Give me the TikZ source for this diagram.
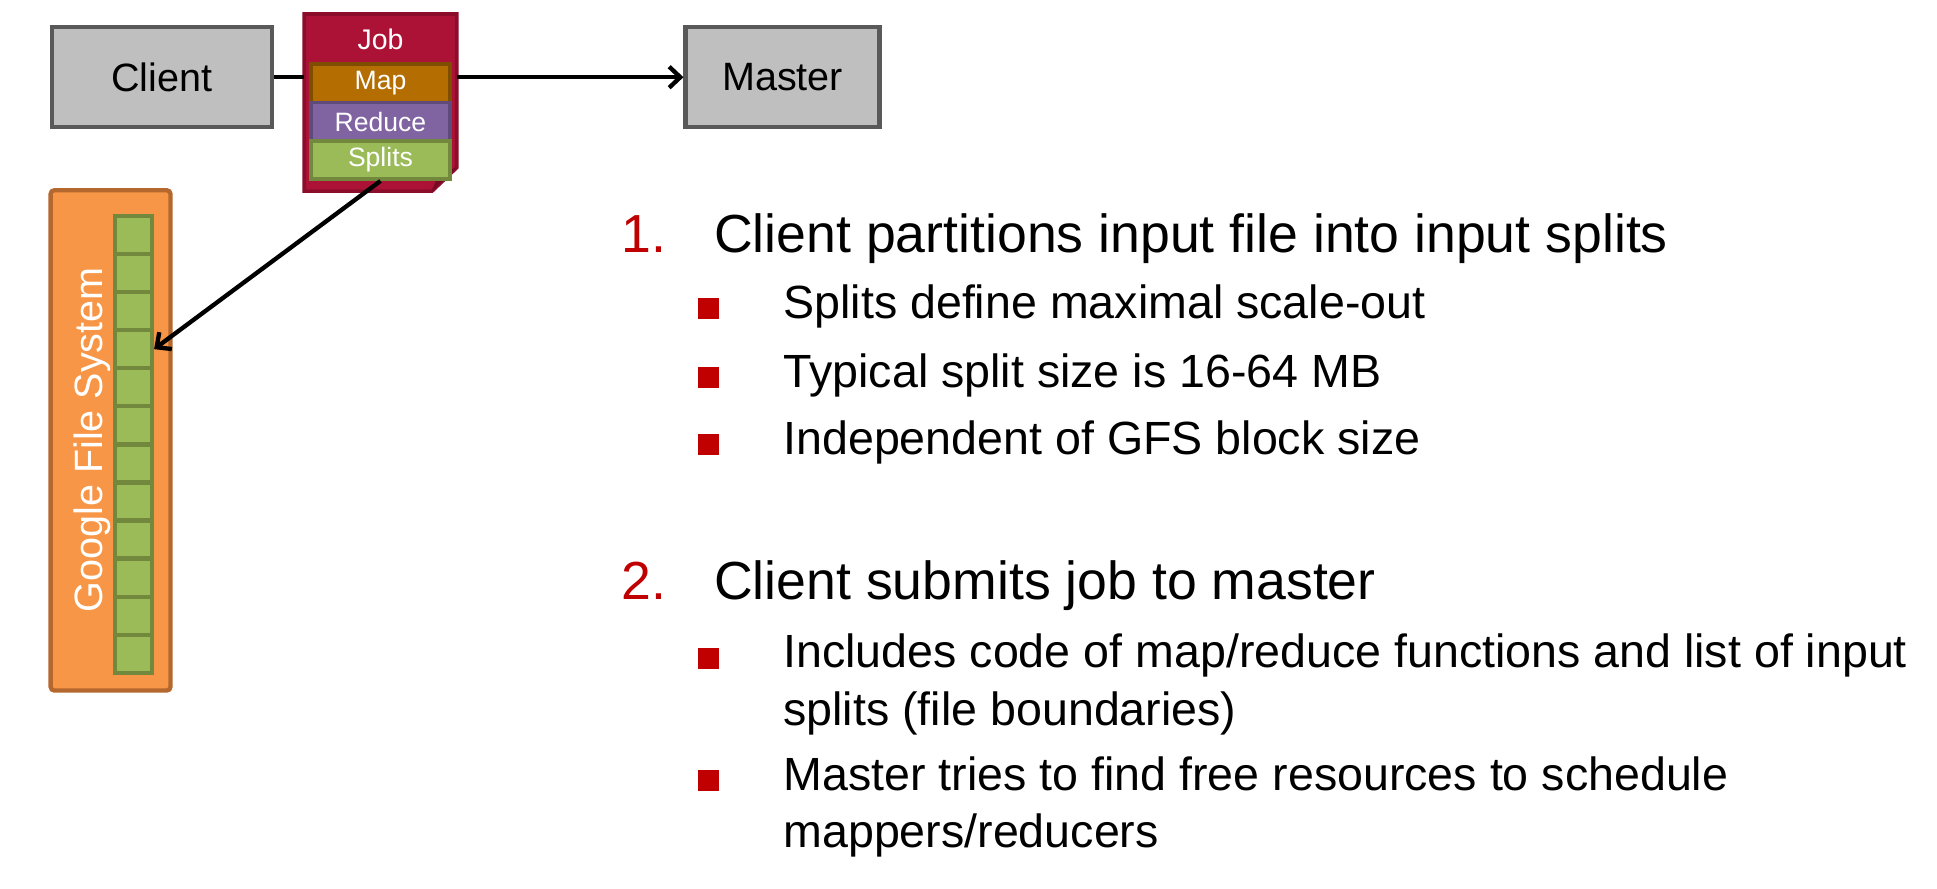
\documentclass[tikz,border=0pt]{standalone}
\usepackage{fontspec}
\setmainfont{Liberation Sans}
\usetikzlibrary{arrows.meta,positioning}

\definecolor{boxgray}{HTML}{BFBFBF}
\definecolor{boxline}{HTML}{595959}
\definecolor{jobred}{HTML}{AC1236}
\definecolor{jobline}{HTML}{8C0D2B}
\definecolor{jobfold}{HTML}{760A22}
\definecolor{mapbrown}{HTML}{B36D00}
\definecolor{mapline}{HTML}{7E4D00}
\definecolor{reducepurple}{HTML}{8064A2}
\definecolor{reduceline}{HTML}{5E4A7B}
\definecolor{splitgreen}{HTML}{9BBB59}
\definecolor{splitline}{HTML}{72893D}
\definecolor{gfsorange}{HTML}{F79646}
\definecolor{gfsline}{HTML}{B4682E}
\definecolor{numred}{HTML}{C00000}

\begin{document}
\begin{tikzpicture}[x=1pt,y=-1pt,
	box/.style={draw=boxline,fill=boxgray,line width=3.5pt,minimum height=81pt,inner sep=0pt,font=\fontsize{32}{38}\selectfont},
	strip/.style={line width=3pt,minimum width=113pt,minimum height=31pt,inner sep=0pt,text=white,font=\fontsize{21.5}{25}\selectfont},
	cell/.style={draw=splitline,fill=splitgreen,line width=3.5pt,minimum width=30pt,minimum height=30.83pt,inner sep=0pt},
	link/.style={line width=3.5pt},
	arrow/.style={line width=3.5pt,-{Straight Barb[length=9pt,width=17pt]}},
	item/.style={anchor=base west,inner sep=0pt,font=\fontsize{43.4}{50}\selectfont},
	subitem/.style={anchor=base west,inner sep=0pt,font=\fontsize{37.7}{44}\selectfont},
	bullet/.style={fill=numred,minimum size=17pt,inner sep=0pt,anchor=north west}]
	\useasboundingbox (0,0) rectangle (1568,719);

	\node[box,minimum width=178pt] (client) at (131,62.5) {Client};
	\node[box,minimum width=157pt] (master) at (633.5,62.5) {Master};

	\node[minimum width=123pt,minimum height=143pt,inner sep=0pt] (job) at (308,83) {};
	\draw[fill=jobred,draw=jobline,line width=3pt] (job.north west) -- (job.north east) -- ([yshift=19pt]job.south east) -- ([xshift=-20pt]job.south east) -- (job.south west) -- cycle;
	\fill[jobfold] ([yshift=19pt]job.south east) -- ([xshift=-20pt]job.south east) -- ([xshift=-15pt,yshift=14pt]job.south east) -- cycle;
	\node[anchor=base,text=white,inner sep=0pt,font=\fontsize{23}{27}\selectfont] (jobname) at (308,40) {Job};
	\node[strip,fill=mapbrown,draw=mapline] (map) at (308,67.5) {Map};
	\node[strip,fill=reducepurple,draw=reduceline] (reduce) at (308,98.5) {Reduce};
	\node[strip,fill=splitgreen,draw=splitline] (splits) at (308,129.5) {Splits};

	\node[draw=gfsline,fill=gfsorange,line width=3.5pt,rounded corners=3pt,minimum width=97pt,minimum height=405pt,inner sep=0pt] (gfs) at (89.5,356.5) {};
	\node[rotate=90,anchor=base,text=white,inner sep=0pt,font=\fontsize{32}{38}\selectfont] (gfsname) at (83,356) {Google File System};
	\foreach \i in {1,...,12}
		\node[cell] (cell\i) at (108,{159.3+30.83*\i}) {};

	\draw[link] (client.east) -- (client.east -| job.west);
	\draw[arrow] (master.west -| job.east) -- (master.west);
	\draw[arrow] (splits.south) -- (cell4.east);

	\node[item,text=numred] (num1) at (503,204.5) {1.};
	\node[item] (item1) at (578,204.5) {Client partitions input file into input splits};
	\node[bullet] (b1) at (565,241) {};
	\node[subitem] (item1a) at (634,258) {Splits define maximal scale-out};
	\node[bullet] (b2) at (565,297) {};
	\node[subitem] (item1b) at (634,314) {Typical split size is 16-64 MB};
	\node[bullet] (b3) at (565,351) {};
	\node[subitem] (item1c) at (634,368) {Independent of GFS block size};

	\node[item,text=numred] (num2) at (503,485) {2.};
	\node[item] (item2) at (578,485) {Client submits job to master};
	\node[bullet] (b4) at (565,524) {};
	\node[subitem] (item2a) at (634,540.5) {Includes code of map/reduce functions and list of input};
	\node[subitem] (item2b) at (634,587) {splits (file boundaries)};
	\node[bullet] (b5) at (565,623) {};
	\node[subitem] (item2c) at (634,640) {Master tries to find free resources to schedule};
	\node[subitem] (item2d) at (634,686) {mappers/reducers};
\end{tikzpicture}
\end{document}
